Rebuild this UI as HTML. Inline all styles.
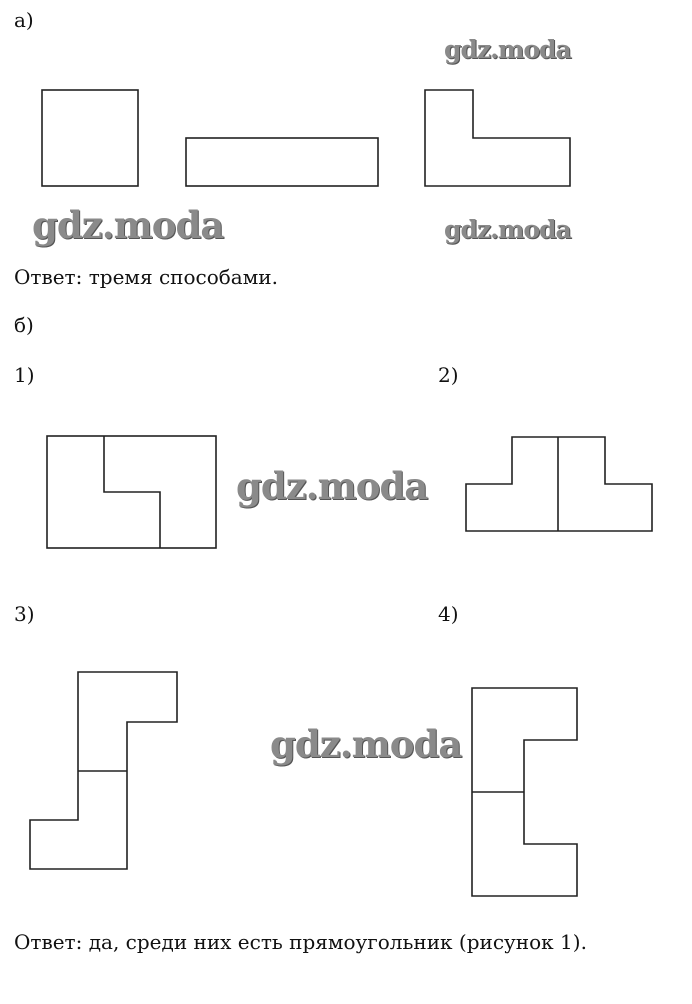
<!DOCTYPE html>
<html><head><meta charset="utf-8"><style>
body{margin:0;background:#fff;}
.w{position:relative;width:692px;height:1004px;overflow:hidden;font-family:"DejaVu Serif",serif;color:#111;}
.t{position:absolute;font-size:20px;white-space:nowrap;line-height:1;}
.wm{position:absolute;font-family:"DejaVu Serif",serif;font-weight:bold;color:#8a8a8a;white-space:nowrap;line-height:1;text-shadow:1px 1px 0 #555;letter-spacing:-1px;}
svg{position:absolute;left:0;top:0;}
</style></head><body><div class="w">
<svg width="692" height="1004" fill="none" stroke="#222" stroke-width="1.6">
<rect x="42" y="90" width="96" height="96"/>
<rect x="186" y="138" width="192" height="48"/>
<path d="M425 90H473V138H570V186H425Z"/>
<rect x="47" y="436" width="169" height="112"/>
<path d="M104 436V492H160V548"/>
<path d="M512 437H605V484H652V531H466V484H512Z"/>
<path d="M558 437V531"/>
<path d="M78 672H177V722H127V869H30V820H78Z"/>
<path d="M78 771H127"/>
<path d="M472 688H577V740H524V844H577V896H472Z"/>
<path d="M472 792H524"/>
</svg>
<div class="t" style="left:14px;top:10px">а)</div>
<div class="t" style="left:14px;top:267px">Ответ: тремя способами.</div>
<div class="t" style="left:14px;top:315px">б)</div>
<div class="t" style="left:14px;top:365px">1)</div>
<div class="t" style="left:438px;top:365px">2)</div>
<div class="t" style="left:14px;top:604px">3)</div>
<div class="t" style="left:438px;top:604px">4)</div>
<div class="t" style="left:14px;top:932px">Ответ: да, среди них есть прямоугольник (рисунок 1).</div>
<div class="wm" style="left:444px;top:37px;font-size:25px">gdz.moda</div>
<div class="wm" style="left:32px;top:207px;font-size:37px">gdz.moda</div>
<div class="wm" style="left:444px;top:217px;font-size:25px">gdz.moda</div>
<div class="wm" style="left:236px;top:468px;font-size:37px">gdz.moda</div>
<div class="wm" style="left:270px;top:726px;font-size:37px">gdz.moda</div>
</div></body></html>
